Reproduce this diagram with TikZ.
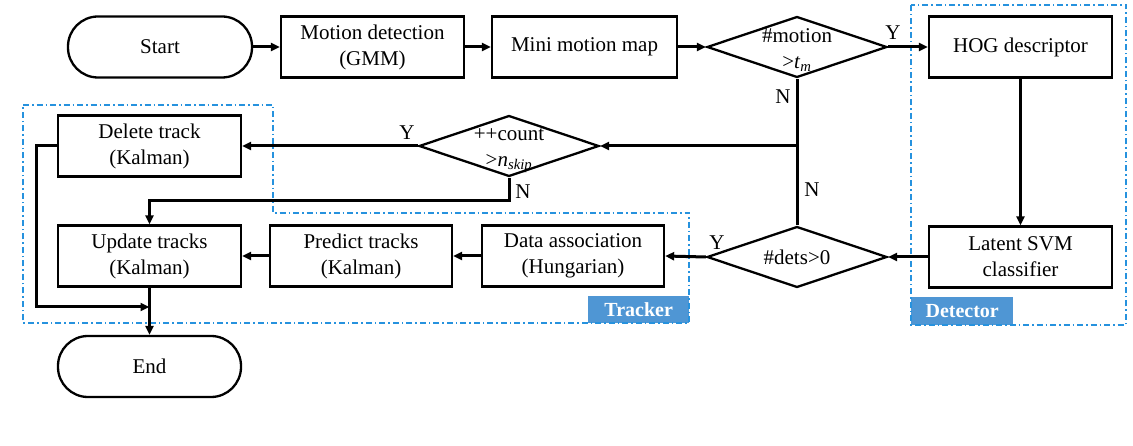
\documentclass[tikz,border=0pt]{standalone}
\usepackage{fontspec}
\setmainfont{Liberation Serif}
\usetikzlibrary{shapes.geometric,arrows.meta,calc}
\definecolor{dashblue}{RGB}{38,146,222}
\definecolor{labblue}{RGB}{79,150,212}
\begin{document}
\begin{tikzpicture}[x=1pt,y=-1pt,
  every node/.style={font=\fontsize{21}{26}\selectfont},
  box/.style={draw, line width=2.3pt, minimum width=183pt, minimum height=61pt, inner sep=0pt, align=center},
  term/.style={box, rounded corners=30pt},
  dec/.style={draw, diamond, line width=2.3pt, minimum width=180pt, minimum height=61pt, inner sep=0pt},
  dtext/.style={align=center, inner sep=0pt},
  conn/.style={line width=3pt, -{Triangle[length=9pt,width=8pt]}},
  plain/.style={line width=3pt},
  grp/.style={draw=dashblue, line width=1.6pt, dash pattern=on 6pt off 3pt on 1.5pt off 3pt},
  tag/.style={fill=labblue, text=white, font=\fontsize{20}{24}\selectfont\bfseries, inner sep=0pt, anchor=south west},
  yn/.style={inner sep=0pt}]
\useasboundingbox (0,0) rectangle (1133,446);
\fill[white] (0,0) rectangle (1133,446);

% groups
\node[tag, minimum width=101pt, minimum height=27pt] (trk) at (588,323) {Tracker};
\node[tag, minimum width=102pt, minimum height=28pt] (det) at (911,325) {Detector};
\draw[grp] (23,105) -- (273,105) -- (273,213) -- (689,213) -- (689,323) -- (23,323) -- cycle;
\draw[grp] (911,5) rectangle (1126,325);

% nodes
\node[term, minimum width=184pt] (start) at (160,47) {Start};
\node[box] (motion) at (372.5,47) {Motion detection\\(GMM)};
\node[box, minimum width=185pt] (mini) at (584.5,47) {Mini motion map};
\node[dec] (d1) at (797,47) {};
\node[dtext] (d1t) at (797,50) {\#motion\\{>}\textit{t}\textsubscript{\textit{m}}};
\node[box] (hog) at (1020.5,47) {HOG descriptor};
\node[box] (svm) at (1020.5,257) {Latent SVM\\classifier};
\node[dec] (d2) at (797,257) {};
\node[dtext] (d2t) at (797,257) {\#dets>0};
\node[box, minimum width=182pt] (assoc) at (573,256) {Data association\\(Hungarian)};
\node[box, minimum width=182pt] (predict) at (361,256) {Predict tracks\\(Kalman)};
\node[box] (update) at (149.5,256) {Update tracks\\(Kalman)};
\node[dec] (d3) at (509,146) {};
\node[dtext] (d3t) at (509,151) {++count\\{>}\textit{n}\textsubscript{\textit{skip}}};
\node[box] (delete) at (149.5,146) {Delete track\\(Kalman)};
\node[term] (end) at (149.5,366.5) {End};

% connectors
\draw[conn] (start) -- (motion);
\draw[conn] (motion) -- (mini);
\draw[conn] (mini) -- (d1);
\draw[conn] (d1) -- (hog);
\draw[conn] (hog) -- (svm);
\draw[conn] (svm.west) -- (d2.east);
\draw[conn] (d2.west) -- (assoc.east);
\draw[conn] (assoc) -- (predict);
\draw[conn] (predict) -- (update);
\draw[plain] (d1.south) -- (d2.north);
\draw[conn] (d1.south |- d3.east) -- (d3.east);
\draw[conn] (d3) -- (delete);
\draw[conn] (d3.south) -- ++(0,23) -| (update.north);
\coordinate (j) at (149.5,307);
\draw[conn] (delete.west) -- ++(-20,0) |- (j);
\draw[conn] (update) -- (end);

% Y / N labels
\node[yn] (y1) at (893,33) {Y};
\node[yn] (n1) at (783,97) {N};
\node[yn] (n2) at (812,190) {N};
\node[yn] (y2) at (407,133) {Y};
\node[yn] (n3) at (523,192) {N};
\node[yn] (y3) at (717,243) {Y};
\end{tikzpicture}
\end{document}
